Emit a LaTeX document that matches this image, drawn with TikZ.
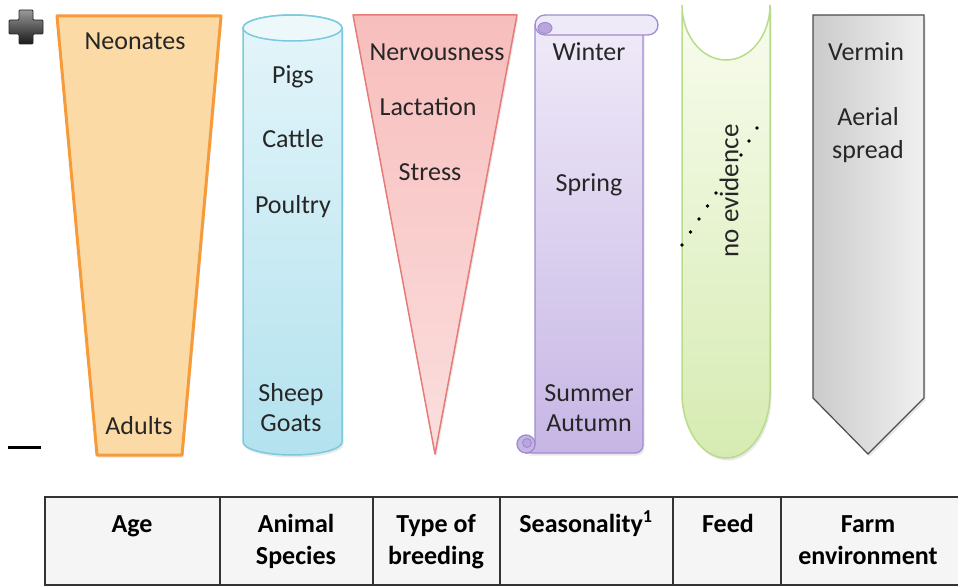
\documentclass[tikz,border=0pt]{standalone}
\usepackage{fontspec}
\setmainfont{Carlito}
\usetikzlibrary{shadows}
\definecolor{ageFill}{HTML}{FCDAA6}
\definecolor{ageLine}{HTML}{F79A3A}
\definecolor{cylTop}{HTML}{E4F5FA}
\definecolor{cylBot}{HTML}{B3E2EE}
\definecolor{cylCap}{HTML}{EDF8FB}
\definecolor{cylLine}{HTML}{7CC9DE}
\definecolor{triTop}{HTML}{F7BEBC}
\definecolor{triBot}{HTML}{FBDEDE}
\definecolor{triLine}{HTML}{E57C7A}
\definecolor{scrTop}{HTML}{EFEAF8}
\definecolor{scrBot}{HTML}{C7B6E5}
\definecolor{scrDark}{HTML}{B9A7DC}
\definecolor{scrLine}{HTML}{A08CD0}
\definecolor{feedTop}{HTML}{F8FCEE}
\definecolor{feedBot}{HTML}{D6EBB2}
\definecolor{feedLine}{HTML}{B9DC8C}
\definecolor{grayL}{HTML}{CBCBCB}
\definecolor{grayR}{HTML}{F0F0F0}
\definecolor{grayLine}{HTML}{4D4D4D}
\definecolor{tabFill}{HTML}{F5F5F5}
\definecolor{tabLine}{HTML}{333333}
\begin{document}
\begin{tikzpicture}[x=1pt,y=1pt,
  lbl/.style={font=\fontsize{26}{30}\selectfont, anchor=base, inner sep=0pt, text=black!85},
  hdr/.style={font=\fontsize{26}{32}\selectfont\bfseries, anchor=base, inner sep=0pt},
  shd/.style={drop shadow={opacity=0.18,shadow xshift=1.5pt,shadow yshift=-2.5pt}},
  tabrule/.style={draw=tabLine, line width=1.3pt},
]
\useasboundingbox (0,0) rectangle (958,-586);

% plus and minus
\path[draw=black!85, top color=black!40, bottom color=black!90, line width=0.8pt, rounded corners=1pt]
  (19,-10) -- (33,-10) -- (33,-20) -- (43,-20) -- (43,-34) -- (33,-34) -- (33,-44)
  -- (19,-44) -- (19,-34) -- (9,-34) -- (9,-20) -- (19,-20) -- cycle;
\draw[line width=3pt] (8,-447) -- (41,-447);

% Age
\path[shd, draw=ageLine, line width=3pt, fill=ageFill, line join=round]
  (57,-16) -- (221,-16) -- (182,-455) -- (97,-455) -- cycle;
\node[lbl] (neonates) at (135,-50) {Neonates};
\node[lbl] (adults) at (139,-434) {Adults};

% Cylinder
\path[shd, draw=cylLine, line width=1.5pt, top color=cylTop, bottom color=cylBot]
  (243,-28) -- (243,-442) arc[start angle=180, end angle=360, x radius=49.5, y radius=13]
  -- (342,-28) arc[start angle=0, end angle=180, x radius=49.5, y radius=13] -- cycle;
\draw[draw=cylLine, line width=1.5pt, fill=cylCap] (292.5,-28) ellipse [x radius=49.5, y radius=13];
\node[lbl] (pigs) at (293,-83) {Pigs};
\node[lbl] (cattle) at (293,-147) {Cattle};
\node[lbl] (poultry) at (293,-213) {Poultry};
\node[lbl] (sheep) at (291,-401) {Sheep};
\node[lbl] (goats) at (291,-431) {Goats};

% Triangle
\path[shd, draw=triLine, line width=1.5pt, top color=triTop, bottom color=triBot, line join=round]
  (353,-15) -- (517,-15) -- (435,-454) -- cycle;
\node[lbl] (nerv) at (437,-61) {Nervousness};
\node[lbl] (lact) at (428,-115) {Lactation};
\node[lbl] (stress) at (430,-180) {Stress};

% Scroll
\path[shd, draw=scrLine, line width=1.3pt, top color=scrTop, bottom color=scrBot, line join=round]
  (535,-25) -- (535,-444) arc[start angle=0, end angle=-90, radius=9]
  -- (635,-453) arc[start angle=-90, end angle=0, radius=8] -- (643,-25) -- cycle;
\path[draw=scrLine, line width=1.3pt, fill=scrTop]
  (545,-15) -- (648,-15) arc[start angle=90, end angle=-90, radius=10]
  -- (545,-35) arc[start angle=270, end angle=90, radius=10] -- cycle;
\path[draw=scrLine, line width=1pt, fill=scrDark] (545,-28) ellipse [x radius=7, y radius=5.5];
\path[draw=scrLine, line width=1.3pt, fill=scrBot] (526,-444) circle (9);
\path[draw=scrLine, line width=1pt, fill=scrDark] (527,-443) circle (4.5);
\node[lbl] (winter) at (589,-61) {Winter};
\node[lbl] (spring) at (589,-191) {Spring};
\node[lbl] (summer) at (589,-401) {Summer};
\node[lbl] (autumn) at (589,-431) {Autumn};

% Feed
\path[shd, draw=feedLine, line width=1.5pt, top color=feedTop, bottom color=feedBot]
  (682,-5) -- (682,-393) arc[start angle=180, end angle=360, x radius=44, y radius=65]
  -- (770,-5) arc[start angle=0, end angle=-180, x radius=44, y radius=55] -- cycle;
\foreach \px/\py in {682/245, 690.5/232, 699/219, 707.5/206, 716/193, 741/155, 749/141, 757/128}
  \fill[black] (\px,-\py) circle (1.8);
\node[font=\fontsize{27}{30}\selectfont, rotate=90, inner sep=0pt, text=black!85] (noev) at (729,-191) {no evidence};

% Farm environment arrow
\path[shd, draw=grayLine, line width=1.2pt, left color=grayL, right color=grayR, line join=miter]
  (813,-15) -- (924,-15) -- (924,-398) -- (868,-454) -- (813,-398) -- cycle;
\node[lbl] (vermin) at (866,-60) {Vermin};
\node[lbl] (aerial) at (868,-125) {Aerial};
\node[lbl] (spread) at (868,-158) {spread};

% Table
\path[tabrule, fill=tabFill] (45,-497) rectangle (966,-585);
\foreach \vx in {220,373,500,673,781}
  \draw[tabrule] (\vx,-497) -- (\vx,-585);
\node[hdr] (hage) at (132,-532) {Age};
\node[hdr] (hanimal) at (296,-532) {Animal};
\node[hdr] (hspecies) at (296,-564) {Species};
\node[hdr] (htype) at (436,-532) {Type of};
\node[hdr] (hbreed) at (436,-564) {breeding};
\node[hdr] (hseason) at (586,-532) {Seasonality\textsuperscript{1}};
\node[hdr] (hfeed) at (728,-532) {Feed};
\node[hdr] (hfarm) at (868,-532) {Farm};
\node[hdr] (henv) at (868,-564) {environment};
\end{tikzpicture}
\end{document}
